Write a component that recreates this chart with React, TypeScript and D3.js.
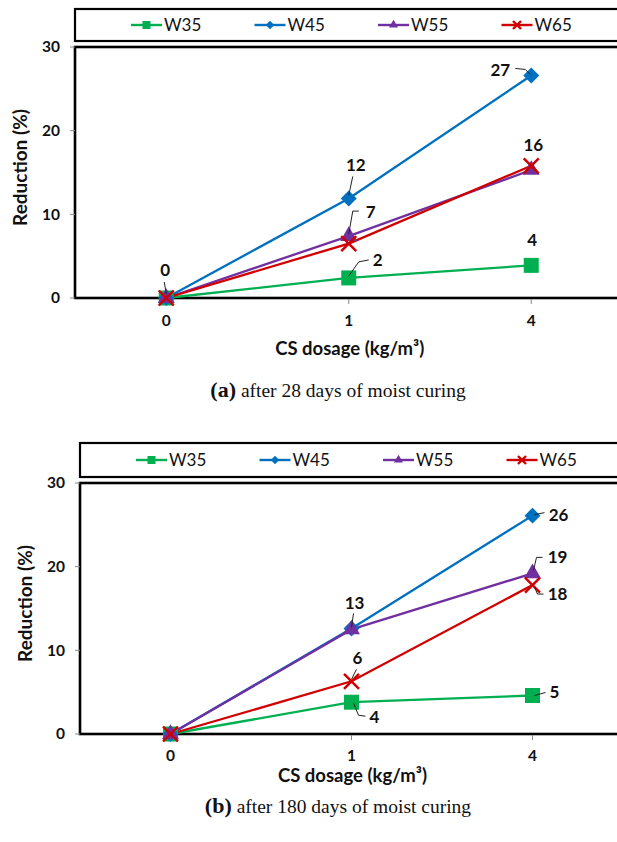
import React from "react";
import * as d3 from "d3";

// CS dosage categories (kg/m3)
const categories = ["0", "1", "4"];
const seriesNames = ["W35", "W45", "W55", "W65"];
const yTicks = [0, 10, 20, 30];

// reduction (%) after 28 days
const w35Day28 = [0, 2.4, 3.9];
const w45Day28 = [0, 11.9, 26.6];
const w55Day28 = [0, 7.4, 15.3];
const w65Day28 = [0, 6.5, 15.8];

// reduction (%) after 180 days
const w35Day180 = [0, 3.8, 4.6];
const w45Day180 = [0, 12.6, 26.1];
const w55Day180 = [0, 12.5, 19.2];
const w65Day180 = [0, 6.3, 17.8];

const colors = ["#00b050", "#0070c0", "#7030a0", "#d00000"];
const sans = "Lato, 'Noto Sans', sans-serif";
const serif = "'Liberation Serif', 'Times New Roman', serif";

type Label = { s: number; i: number; dx: number; dy: number; leader?: number[][] };

// label placement (offset from marker) and leader lines
const labels28: Label[] = [
  { s: 1, i: 0, dx: -1, dy: -28, leader: [[0, -4], [-2, -16]] },
  { s: 1, i: 1, dx: 7, dy: -33, leader: [[0, -3], [4, -22]] },
  { s: 2, i: 1, dx: 22, dy: -24, leader: [[0, -2], [4, -25], [10, -25]] },
  { s: 0, i: 1, dx: 29, dy: -18, leader: [[0, -2], [10, -16], [20, -18]] },
  { s: 1, i: 2, dx: -31, dy: -5, leader: [[-16, -7], [-6, -6], [-1, -1]] },
  { s: 3, i: 2, dx: 2, dy: -21 },
  { s: 0, i: 2, dx: 1, dy: -25 },
];

const labels180: Label[] = [
  { s: 1, i: 2, dx: 26, dy: -1, leader: [[2, -1], [12, -3]] },
  { s: 2, i: 2, dx: 25, dy: -16, leader: [[1, -3], [4, -16], [10, -16]] },
  { s: 3, i: 2, dx: 25, dy: 9, leader: [[2, 2], [5, 9], [11, 9]] },
  { s: 2, i: 1, dx: 3, dy: -26, leader: [[0, -2], [2, -16]] },
  { s: 3, i: 1, dx: 6, dy: -23, leader: [[0, -2], [5, -12]] },
  { s: 0, i: 1, dx: 23, dy: 15, leader: [[2, 1], [7, 13], [14, 14]] },
  { s: 0, i: 2, dx: 22, dy: -3, leader: [[2, 0], [13, -3]] },
];

const symbols = [d3.symbolSquare, d3.symbolDiamond2, d3.symbolTriangle, null];

function Marker({ k, x, y, size }: { k: number; x: number; y: number; size: number }) {
  if (k === 3) {
    const h = size / 2;
    return (
      <g transform={`translate(${x},${y})`} stroke={colors[3]} strokeWidth={2.4}>
        <line x1={-h} y1={-h} x2={h} y2={h} />
        <line x1={-h} y1={h} x2={h} y2={-h} />
      </g>
    );
  }
  const area = k === 0 ? size * size : k === 1 ? size * size * 0.72 : size * size * 0.55;
  const d = d3.symbol(symbols[k] as d3.SymbolType, area)() || "";
  return <path d={d} transform={`translate(${x},${y})`} fill={colors[k]} />;
}

type PanelProps = {
  series: number[][];
  labels: Label[];
  left: number;
  legendTop: number;
  plotTop: number;
  plotBottom: number;
  step: number;
  tickY: number;
  titleY: number;
  captionY: number;
  tag: string;
  caption: string;
};

function Panel(p: PanelProps) {
  const right = p.left + p.step * 3;
  const x = d3.scalePoint<string>().domain(categories).range([p.left, right]).padding(0.5);
  const y = d3.scaleLinear().domain([0, 30]).range([p.plotBottom, p.plotTop]);
  const line = d3
    .line<number>()
    .x((_, i) => x(categories[i]) as number)
    .y((d) => y(d));
  const legendY = (p.legendTop + p.plotTop - 6) / 2;

  return (
    <g>
      {/* legend */}
      <rect x={p.left} y={p.legendTop} width={600} height={p.plotTop - 6 - p.legendTop} fill="white" stroke="black" strokeWidth={2.2} />
      {seriesNames.map((name, k) => {
        const lx = p.left + 56 + k * 123.5;
        return (
          <g key={name}>
            <line x1={lx} x2={lx + 31} y1={legendY} y2={legendY} stroke={colors[k]} strokeWidth={2.4} />
            <Marker k={k} x={lx + 15.5} y={legendY} size={8} />
            <text x={lx + 33} y={legendY} dy="0.35em" fontFamily={sans} fontSize={17} fill="#111">
              {name}
            </text>
          </g>
        );
      })}

      {/* plot frame */}
      <rect x={p.left} y={p.plotTop} width={600} height={p.plotBottom - p.plotTop} fill="none" stroke="black" strokeWidth={2.6} />

      {/* y axis */}
      {yTicks.map((t) => (
        <g key={t}>
          <line x1={p.left - 5} x2={p.left} y1={y(t)} y2={y(t)} stroke="#888" strokeWidth={1} />
          <text x={p.left - 15} y={y(t)} dy="0.35em" textAnchor="end" fontFamily={sans} fontWeight="bold" fontSize={15.5} fill="#111">
            {t}
          </text>
        </g>
      ))}
      <text
        transform={`translate(${p.left - 55},${(p.plotTop + p.plotBottom) / 2 - 5}) rotate(-90)`}
        textAnchor="middle"
        dy="0.35em"
        fontFamily={sans}
        fontWeight="bold"
        fontSize={19}
        fill="#111"
      >
        Reduction (%)
      </text>

      {/* x axis */}
      {categories.map((c) => (
        <g key={c}>
          <line x1={x(c)} x2={x(c)} y1={p.plotBottom + 1} y2={p.plotBottom + 6} stroke="#888" strokeWidth={1} />
          <text x={x(c)} y={p.tickY} textAnchor="middle" fontFamily={sans} fontWeight="bold" fontSize={15.5} fill="#111">
            {c}
          </text>
        </g>
      ))}
      <text x={(x("1") as number) + 1} y={p.titleY} textAnchor="middle" fontFamily={sans} fontWeight="bold" fontSize={18.5} fill="#111">
        CS dosage (kg/m³)
      </text>

      {/* series lines then markers */}
      {p.series.map((vals, k) => (
        <path key={"l" + k} d={line(vals) || ""} fill="none" stroke={colors[k]} strokeWidth={2.3} />
      ))}
      {p.series.map((vals, k) =>
        vals.map((v, i) => <Marker key={`m${k}-${i}`} k={k} x={x(categories[i]) as number} y={y(v)} size={15} />)
      )}

      {/* data labels */}
      {p.labels.map((l, n) => {
        const mx = x(categories[l.i]) as number;
        const my = y(p.series[l.s][l.i]);
        return (
          <g key={"t" + n}>
            {l.leader && (
              <polyline
                points={l.leader.map(([a, b]) => `${mx + a},${my + b}`).join(" ")}
                fill="none"
                stroke="#222"
                strokeWidth={1}
              />
            )}
            <text x={mx + l.dx} y={my + l.dy} dy="0.35em" textAnchor="middle" fontFamily={sans} fontWeight="bold" fontSize={17} fill="#111">
              {Math.round(p.series[l.s][l.i])}
            </text>
          </g>
        );
      })}

      {/* caption */}
      <text x={338} y={p.captionY} textAnchor="middle" fontFamily={serif} fill="#111">
        <tspan fontWeight="bold" fontSize={22}>
          {p.tag}
        </tspan>
        <tspan fontSize={19.5}>{" " + p.caption}</tspan>
      </text>
    </g>
  );
}

export default function App() {
  return (
    <svg width={617} height={842} style={{ position: "absolute", left: 0, top: 0, background: "white" }}>
      <Panel
        series={[w35Day28, w45Day28, w55Day28, w65Day28]}
        labels={labels28}
        left={75}
        legendTop={9}
        plotTop={47}
        plotBottom={298}
        step={182.5}
        tickY={326}
        titleY={355}
        captionY={397}
        tag="(a)"
        caption="after 28 days of moist curing"
      />
      <Panel
        series={[w35Day180, w45Day180, w55Day180, w65Day180]}
        labels={labels180}
        left={80}
        legendTop={443}
        plotTop={483}
        plotBottom={734}
        step={181}
        tickY={761}
        titleY={782}
        captionY={813}
        tag="(b)"
        caption="after 180 days of moist curing"
      />
    </svg>
  );
}
